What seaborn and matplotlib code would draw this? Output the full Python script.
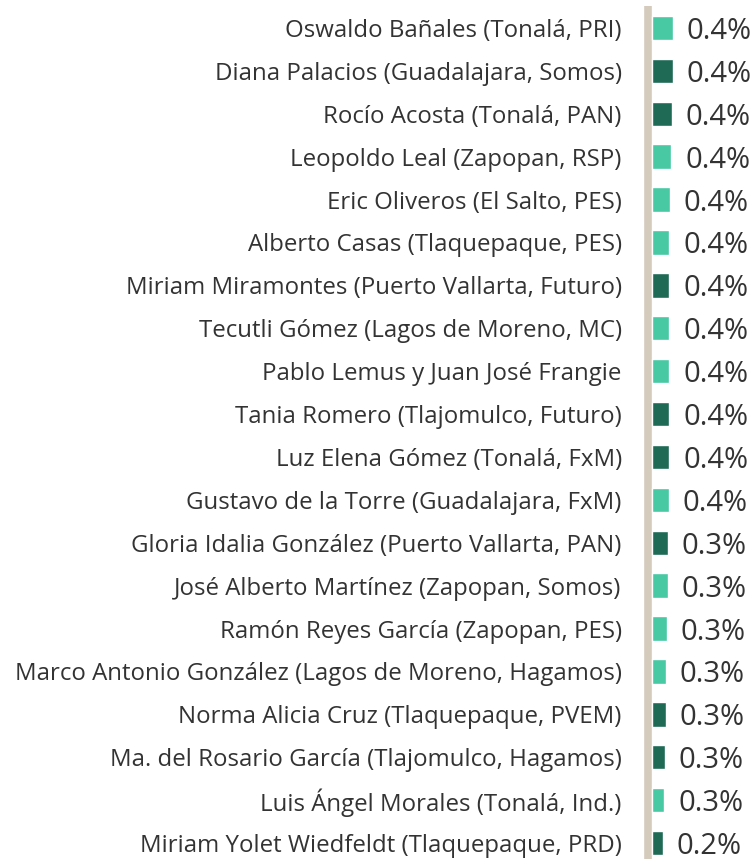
import numpy as np
import pandas as pd
import seaborn as sns
import matplotlib.pyplot as plt

# candidates, share of mentions (%) and group (colour)
names = [
    "Oswaldo Bañales (Tonalá, PRI)",
    "Diana Palacios (Guadalajara, Somos)",
    "Rocío Acosta (Tonalá, PAN)",
    "Leopoldo Leal (Zapopan, RSP)",
    "Eric Oliveros (El Salto, PES)",
    "Alberto Casas (Tlaquepaque, PES)",
    "Miriam Miramontes (Puerto Vallarta, Futuro)",
    "Tecutli Gómez (Lagos de Moreno, MC)",
    "Pablo Lemus y Juan José Frangie",
    "Tania Romero (Tlajomulco, Futuro)",
    "Luz Elena Gómez (Tonalá, FxM)",
    "Gustavo de la Torre (Guadalajara, FxM)",
    "Gloria Idalia González (Puerto Vallarta, PAN)",
    "José Alberto Martínez (Zapopan, Somos)",
    "Ramón Reyes García (Zapopan, PES)",
    "Marco Antonio González (Lagos de Moreno, Hagamos)",
    "Norma Alicia Cruz (Tlaquepaque, PVEM)",
    "Ma. del Rosario García (Tlajomulco, Hagamos)",
    "Luis Ángel Morales (Tonalá, Ind.)",
    "Miriam Yolet Wiedfeldt (Tlaquepaque, PRD)",
]
values = [0.44, 0.44, 0.42, 0.41, 0.38, 0.37, 0.37, 0.37, 0.37, 0.37,
          0.37, 0.36, 0.34, 0.33, 0.32, 0.29, 0.29, 0.27, 0.26, 0.23]
group = ["H", "M", "M", "H", "H", "H", "M", "H", "H", "M",
         "M", "H", "M", "H", "H", "H", "M", "M", "H", "M"]

df = pd.DataFrame({"name": names, "value": values, "group": group})

sns.set_theme(style="white")
plt.rcParams["font.family"] = ["Open Sans", "DejaVu Sans"]

fig = plt.figure(figsize=(7.55, 8.59), dpi=100)
ax = fig.add_axes([644 / 755, 1 - 864.5 / 859, 111 / 755, 858 / 859])

sns.barplot(data=df, y="name", x="value", hue="group", dodge=False,
            palette={"H": "#48c9a4", "M": "#1f6a55"}, width=0.57,
            legend=False, ax=ax, saturation=1)

ax.set_xlim(-8 / 47, 103 / 47)
ax.set_ylim(len(names) - 0.5, -0.5)
ax.axvline(-4 / 47, color="#d5cbbd", lw=5.5, zorder=0)

for i, v in enumerate(values):
    ax.annotate(f"{v:.1f}%", (v, i), xytext=(10, 0), textcoords="offset points",
                va="center_baseline", ha="left", fontsize=21, color="#333333")

ax.set_xlabel("")
ax.set_ylabel("")
ax.set_xticks([])
ax.tick_params(axis="y", length=0, pad=16, labelsize=17.3, labelcolor="#333333")
sns.despine(ax=ax, left=True, bottom=True)

fig.savefig("out.png", dpi=100)
